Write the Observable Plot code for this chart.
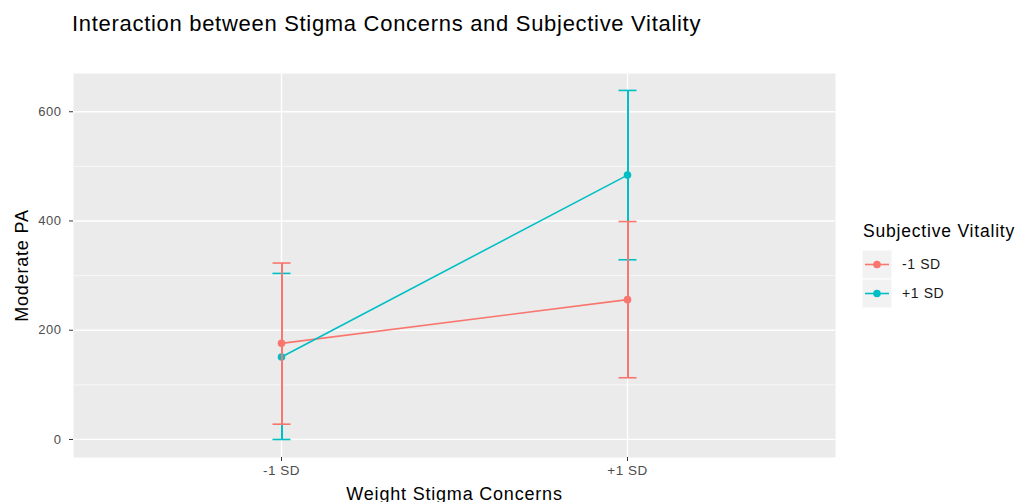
<!DOCTYPE html>
<html>
<head>
<meta charset="utf-8">
<script src="https://cdn.jsdelivr.net/npm/d3@7"></script>
<script src="https://cdn.jsdelivr.net/npm/@observablehq/plot@0.6"></script>
<style>
  body { margin: 0; background: #fff; }
  #wrap { position: relative; width: 1017px; height: 502px; font-family: "Liberation Sans", Arial, sans-serif; overflow: hidden; }
  #title { position: absolute; left: 72px; top: 13px; font-size: 22px; line-height: 22px; letter-spacing: 0.7px; color: #000; white-space: nowrap; }
  #chart { position: absolute; left: 0; top: 50px; }
  #legend { position: absolute; left: 855px; top: 215px; }
  g[aria-label="y-axis tick label"], g[aria-label="x-axis tick label"] { fill: #4d4d4d; letter-spacing: 0.5px; }
  g[aria-label="y-axis tick"], g[aria-label="x-axis tick"] { stroke: #333; }
  g[aria-label="text"] { letter-spacing: 0.8px; }
</style>
</head>
<body>
<div id="wrap">
  <div id="title">Interaction between Stigma Concerns and Subjective Vitality</div>
  <div id="chart"></div>
  <div id="legend"></div>
</div>
<script>
// Weight stigma concern levels on the x axis
const stigma = ["-1 SD", "+1 SD"];
// Subjective vitality groups (colour)
const vitality = ["-1 SD", "+1 SD"];
const colors = ["#F8766D", "#00BFC4"];

// Estimated moderate PA with confidence bounds, per vitality group
const meanLow = [176, 256];
const lowerLow = [28, 113];
const upperLow = [323, 399];
const meanHigh = [151, 484];
const lowerHigh = [0, 329];
const upperHigh = [304, 639];

// Axis breaks
const yBreaks = [0, 200, 400, 600];
const yMinor = [100, 300, 500];

const rows = [];
stigma.forEach((s, i) => {
  rows.push({stigma: s, group: vitality[0], mean: meanLow[i], lower: lowerLow[i], upper: upperLow[i]});
});
stigma.forEach((s, i) => {
  rows.push({stigma: s, group: vitality[1], mean: meanHigh[i], lower: lowerHigh[i], upper: upperHigh[i]});
});
const lowRows = rows.filter(d => d.group === vitality[0]);
const highRows = rows.filter(d => d.group === vitality[1]);

// Horizontal cap for the error bars
const cap = { draw(context) { context.moveTo(-9, 0); context.lineTo(9, 0); } };

// Error bar (vertical rule + two caps) for one group
function errorBars(data) {
  return [
    Plot.ruleX(data, { x: "stigma", y1: "lower", y2: "upper", stroke: "group", strokeWidth: 2, shapeRendering: "crispEdges" }),
    Plot.dot(data, { x: "stigma", y: "upper", symbol: cap, stroke: "group", strokeWidth: 1.6, fill: "none" }),
    Plot.dot(data, { x: "stigma", y: "lower", symbol: cap, stroke: "group", strokeWidth: 1.6, fill: "none" })
  ];
}

const font = "'Liberation Sans', Arial, sans-serif";

const chart = Plot.plot({
  width: 850,
  height: 452,
  marginTop: 23,
  marginBottom: 45,
  marginLeft: 73,
  marginRight: 15,
  style: { fontFamily: font, fontSize: "13px", background: "transparent", overflow: "visible" },
  x: { type: "point", domain: stigma, padding: 0.6, label: null },
  y: { domain: [-33, 670], label: null },
  color: { domain: vitality, range: colors },
  marks: [
    Plot.frame({ fill: "#ebebeb", stroke: null }),
    Plot.ruleY(yMinor, { stroke: "#fff", strokeWidth: 0.6 }),
    Plot.ruleY(yBreaks, { stroke: "#fff", strokeWidth: 1.3 }),
    Plot.ruleX(stigma, { stroke: "#fff", strokeWidth: 1.3 }),
    Plot.axisY(yBreaks, { tickSize: 4, tickPadding: 8, label: null, fontSize: 13 }),
    Plot.axisX({ tickSize: 4, tickPadding: 4, label: null, fontSize: 13.5 }),
    Plot.line(rows, { x: "stigma", y: "mean", z: "group", stroke: "group", strokeWidth: 1.6 }),
    Plot.dot(rows, { x: "stigma", y: "mean", fill: "group", r: 3.8 }),
    ...errorBars(highRows),
    ...errorBars(lowRows),
    Plot.text(["Weight Stigma Concerns"], {
      frameAnchor: "bottom", dy: 42, lineAnchor: "bottom", textAnchor: "middle",
      fontSize: 18, fill: "#000"
    }),
    Plot.text(["Moderate PA"], {
      frameAnchor: "left", dx: -51, rotate: -90, textAnchor: "middle", lineAnchor: "middle",
      fontSize: 18, fill: "#000"
    })
  ]
});
document.getElementById("chart").appendChild(chart);

// Legend: title plus a key box with line and point for each vitality group
const keyW = 30, keyH = 29, keyX = 7, keyY = 35;
const lsvg = d3.select("#legend").append("svg")
  .attr("width", 162).attr("height", 100)
  .attr("font-family", font)
  .style("display", "block");
lsvg.append("text").attr("x", 8).attr("y", 22)
  .attr("font-size", 17.5).attr("letter-spacing", "0.8px").attr("fill", "#000")
  .text("Subjective Vitality");
vitality.forEach((v, i) => {
  const g = lsvg.append("g").attr("transform", `translate(${keyX},${keyY + i * keyH})`);
  g.append("rect").attr("width", keyW).attr("height", keyH)
    .attr("fill", "#f2f2f2").attr("stroke", "#fff").attr("stroke-width", 1);
  g.append("line").attr("x1", 3).attr("x2", keyW - 3).attr("y1", keyH / 2).attr("y2", keyH / 2)
    .attr("stroke", colors[i]).attr("stroke-width", 1.6);
  g.append("circle").attr("cx", keyW / 2).attr("cy", keyH / 2).attr("r", 3.8).attr("fill", colors[i]);
  g.append("text").attr("x", keyW + 10).attr("y", keyH / 2).attr("dy", "0.35em")
    .attr("font-size", 14).attr("letter-spacing", "0.6px").attr("fill", "#1a1a1a").text(v);
});
</script>
</body>
</html>
